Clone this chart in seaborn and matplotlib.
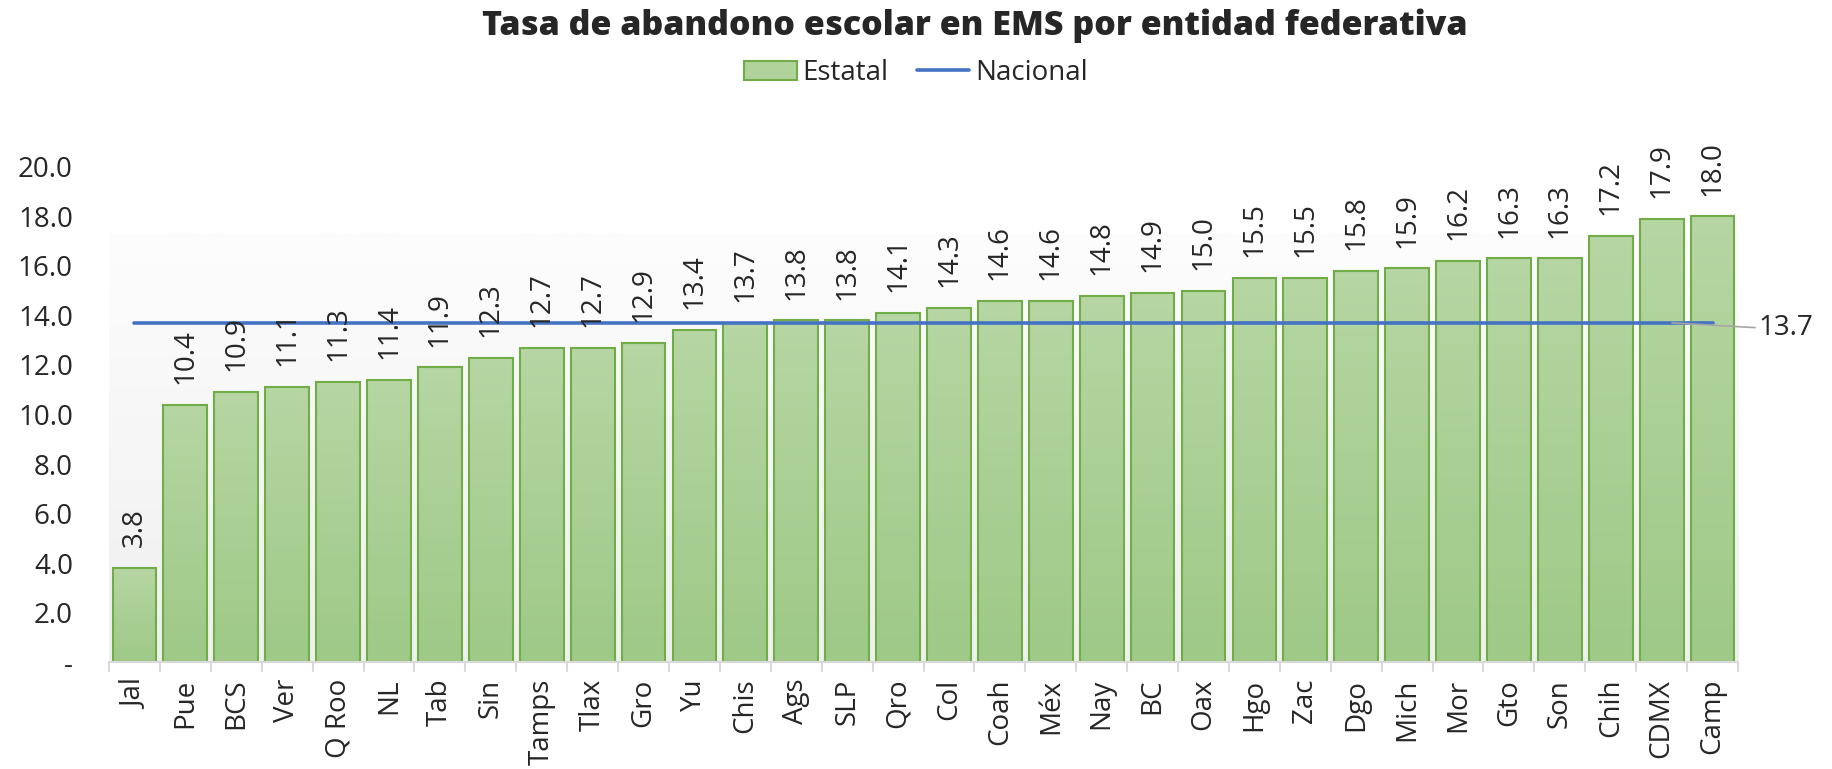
import numpy as np
import matplotlib
matplotlib.use("Agg")
import matplotlib.pyplot as plt
import seaborn as sns
from matplotlib.colors import LinearSegmentedColormap
from matplotlib.patches import Patch
from matplotlib.lines import Line2D

entidades = ["Jal", "Pue", "BCS", "Ver", "Q Roo", "NL", "Tab", "Sin", "Tamps", "Tlax",
             "Gro", "Yu", "Chis", "Ags", "SLP", "Qro", "Col", "Coah", "Méx", "Nay",
             "BC", "Oax", "Hgo", "Zac", "Dgo", "Mich", "Mor", "Gto", "Son", "Chih",
             "CDMX", "Camp"]
estatal = [3.8, 10.4, 10.9, 11.1, 11.3, 11.4, 11.9, 12.3, 12.7, 12.7,
           12.9, 13.4, 13.7, 13.8, 13.8, 14.1, 14.3, 14.6, 14.6, 14.8,
           14.9, 15.0, 15.5, 15.5, 15.8, 15.9, 16.2, 16.3, 16.3, 17.2,
           17.9, 18.0]
nacional = 13.7
yticks = [0, 2, 4, 6, 8, 10, 12, 14, 16, 18, 20]
ytick_labels = ["-", "2.0", "4.0", "6.0", "8.0", "10.0", "12.0", "14.0", "16.0", "18.0", "20.0"]

sns.set_style("white")
plt.rcParams['font.family'] = ['Open Sans', 'DejaVu Sans']

fig = plt.figure(figsize=(18.32, 7.69), dpi=100)
ax = fig.add_axes([0.0595, 0.139, 0.8892, 0.644])

n = len(entidades)
sns.barplot(x=entidades, y=estatal, color="#a9d18e", edgecolor="#70ad47",
            linewidth=1.5, width=0.86, ax=ax, zorder=2)

# gradient inside each bar
bar_cmap = LinearSegmentedColormap.from_list("bar", ["#9ec987", "#b6d6a3"])
grad = np.linspace(0, 1, 256).reshape(-1, 1)
for p in ax.patches:
    x0, w, h = p.get_x(), p.get_width(), p.get_height()
    im = ax.imshow(grad, cmap=bar_cmap, origin="lower", aspect="auto",
                   extent=[x0, x0 + w, 0, h], zorder=2.1)
    im.set_clip_path(p)
    p.set_facecolor("none")
    p.set_zorder(2.2)

# plot area background gradient
bg_cmap = LinearSegmentedColormap.from_list("bg", ["#efefef", "#fdfdfd"])
ax.imshow(grad, cmap=bg_cmap, origin="lower", aspect="auto",
          extent=[-0.5, n - 0.5, 0, 17.3], zorder=0)

sns.lineplot(x=np.arange(n), y=[nacional] * n, color="#4472c4", linewidth=2.6,
             ax=ax, zorder=3)

for i, v in enumerate(estatal):
    ax.annotate(f"{v:.1f}", xy=(i, v), xytext=(0, 15), textcoords="offset points",
                rotation=90, ha="center", va="bottom", fontsize=20, zorder=4)

ax.annotate(f"{nacional:.1f}", xy=(30.2, nacional), xytext=(31.9, 13.5),
            ha="left", va="center", fontsize=20,
            arrowprops=dict(arrowstyle="-", color="#a6a6a6", lw=1.2,
                            shrinkA=0, shrinkB=0, relpos=(0, 0.5)))

ax.set_xlim(-0.5, n - 0.5)
ax.set_ylim(0, 20)
ax.set_yticks(yticks)
ax.set_yticklabels(ytick_labels, fontsize=20)
ax.set_xticks(np.arange(n))
ax.set_xticklabels(entidades, rotation=90, fontsize=20)
ax.tick_params(axis="y", length=0, pad=26)
ax.tick_params(axis="x", length=0, pad=12)
for x in np.arange(n + 1) - 0.5:
    ax.plot([x, x], [0, -0.35], color="#d9d9d9", lw=1.5, clip_on=False, zorder=1)

for s in ["top", "right", "left"]:
    ax.spines[s].set_visible(False)
ax.spines["bottom"].set_color("#d9d9d9")
ax.spines["bottom"].set_linewidth(1.5)

fig.text(0.532, 0.967, "Tasa de abandono escolar en EMS por entidad federativa",
         ha="center", va="center", fontsize=24.5, fontweight="heavy")

handles = [Patch(facecolor="#b0d39c", edgecolor="#70ad47", linewidth=1.5),
           Line2D([0], [0], color="#4472c4", lw=2.6)]
fig.legend(handles, ["Estatal", "Nacional"], loc="center", bbox_to_anchor=(0.5, 0.905),
           ncol=2, frameon=False, fontsize=20, handlelength=1.9, handletextpad=0.2,
           columnspacing=1.0)

fig.savefig("out.png", dpi=100)
